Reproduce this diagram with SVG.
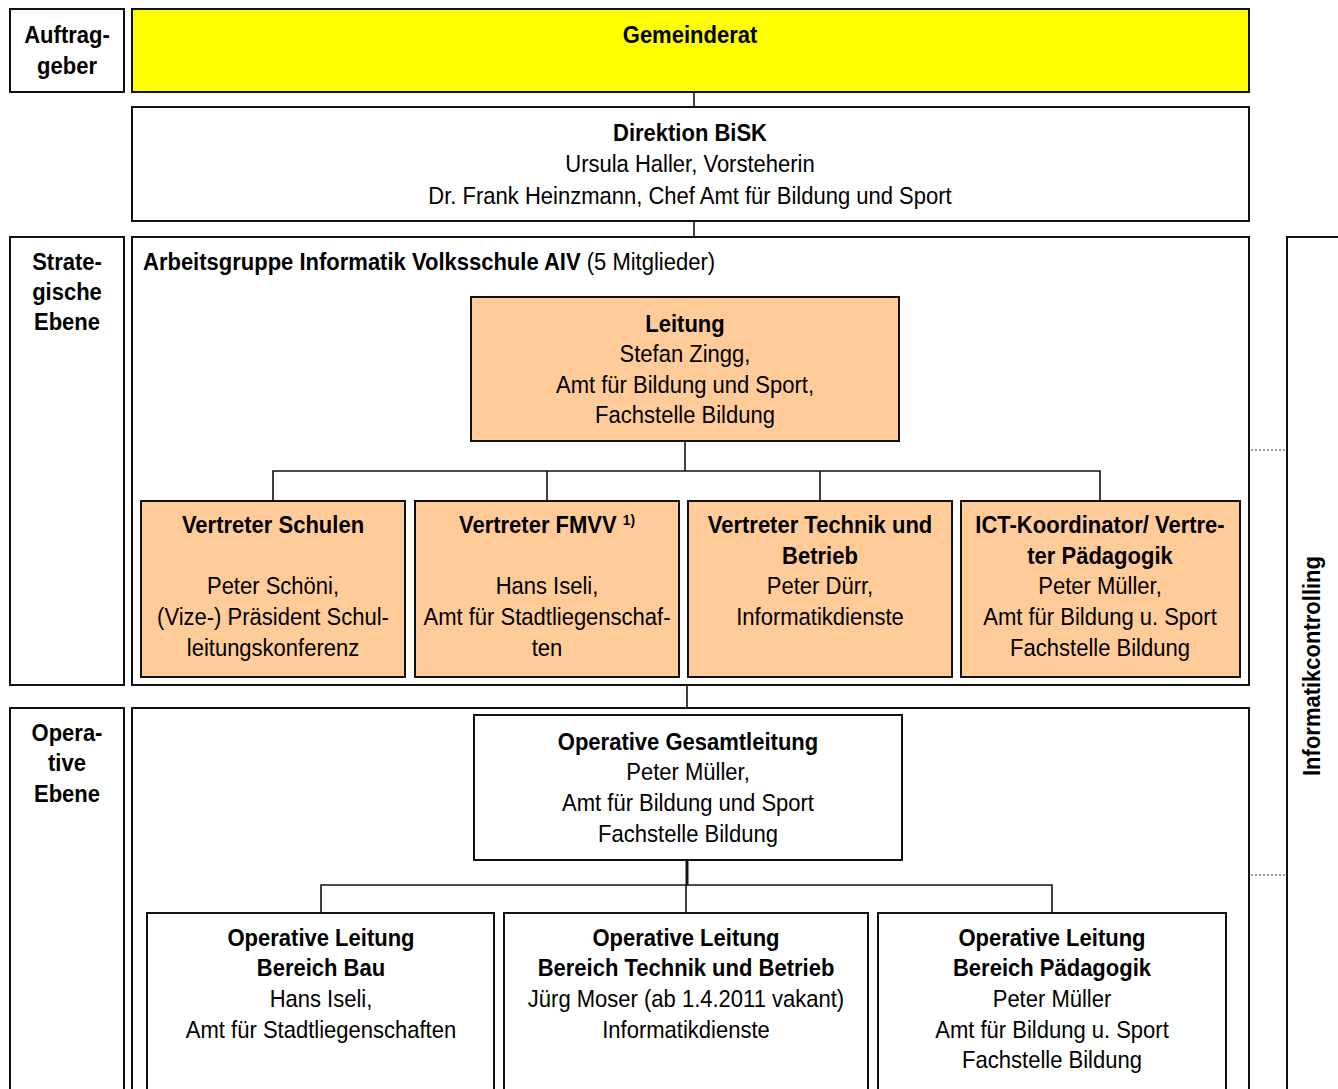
<svg xmlns="http://www.w3.org/2000/svg" width="1338" height="1089" viewBox="0 0 1338 1089">
<style>
.b{fill:#fff;stroke:#111;stroke-width:2}
.y{fill:#ffff00;stroke:#111;stroke-width:2}
.o{fill:#ffcc99;stroke:#111;stroke-width:2}
.c{fill:none;stroke:#111;stroke-width:1.6}
.d{fill:none;stroke:#333;stroke-width:1.2;stroke-dasharray:2 2}
text{font-family:"Liberation Sans Narrow","Arial Narrow","Liberation Sans",Arial,sans-serif;font-size:24px;fill:#000;text-anchor:middle}
.h{font-weight:bold}
.l{text-anchor:start}
</style>
<rect width="1338" height="1089" fill="#fff"/>
<g id="auftraggeber"><rect class="b" x="10" y="9" width="114" height="83"/><text class="h" transform="matrix(0.917 0 0 1 67 43)">Auftrag-</text><text class="h" transform="matrix(0.917 0 0 1 67 74)">geber</text></g>
<g id="gemeinderat"><rect class="y" x="132" y="9" width="1117" height="83"/><text class="h" transform="matrix(0.917 0 0 1 690 43)">Gemeinderat</text></g>
<g id="direktion"><rect class="b" x="132" y="107" width="1117" height="114"/><text class="h" transform="matrix(0.917 0 0 1 690 141)">Direktion BiSK</text><text transform="matrix(0.917 0 0 1 690 172)">Ursula Haller, Vorsteherin</text><text transform="matrix(0.917 0 0 1 690 204)">Dr. Frank Heinzmann, Chef Amt für Bildung und Sport</text></g>
<g id="strategische"><rect class="b" x="10" y="237" width="114" height="448"/><text class="h" transform="matrix(0.917 0 0 1 67 270)">Strate-</text><text class="h" transform="matrix(0.917 0 0 1 67 300)">gische</text><text class="h" transform="matrix(0.917 0 0 1 67 330)">Ebene</text></g>
<g id="aiv"><rect class="b" x="132" y="237" width="1117" height="448"/><text class="l" transform="matrix(0.917 0 0 1 143 270)"><tspan class="h">Arbeitsgruppe Informatik Volksschule AIV</tspan> (5 Mitglieder)</text></g>
<g id="operative"><rect class="b" x="10" y="708" width="114" height="390"/><text class="h" transform="matrix(0.917 0 0 1 67 741)">Opera-</text><text class="h" transform="matrix(0.917 0 0 1 67 771)">tive</text><text class="h" transform="matrix(0.917 0 0 1 67 802)">Ebene</text></g>
<g id="operative-container"><rect class="b" x="132" y="708" width="1117" height="390"/></g>
<g id="informatikcontrolling"><rect class="b" x="1287" y="237" width="60" height="870"/><text class="h" transform="translate(1320 666) rotate(-90) scale(0.917 1)">Informatikcontrolling</text></g>
<g id="connectors">
<line class="c" x1="694" y1="92" x2="694" y2="107"/>
<line class="c" x1="694" y1="221" x2="694" y2="237"/>
<path class="c" d="M685 441V471M273 501V471H1100V501M547 471V501M820 471V501"/>
<line class="c" x1="687" y1="685" x2="687" y2="708"/>
<path class="c" d="M687 860V885" style="stroke-width:3"/>
<path class="c" d="M321 913V885H1052V913M686 885V913"/>
<line class="d" x1="1251" y1="450" x2="1287" y2="450"/>
<line class="d" x1="1251" y1="875" x2="1287" y2="875"/>
</g>
<g id="leitung"><rect class="o" x="471" y="297" width="428" height="144"/><text class="h" transform="matrix(0.917 0 0 1 685 332)">Leitung</text><text transform="matrix(0.917 0 0 1 685 362)">Stefan Zingg,</text><text transform="matrix(0.917 0 0 1 685 393)">Amt für Bildung und Sport,</text><text transform="matrix(0.917 0 0 1 685 423)">Fachstelle Bildung</text></g>
<g id="vertreter-schulen"><rect class="o" x="141" y="501" width="264" height="176"/><text class="h" transform="matrix(0.917 0 0 1 273 533)">Vertreter Schulen</text><text transform="matrix(0.917 0 0 1 273 594)">Peter Schöni,</text><text transform="matrix(0.917 0 0 1 273 625)">(Vize-) Präsident Schul-</text><text transform="matrix(0.917 0 0 1 273 656)">leitungskonferenz</text></g>
<g id="vertreter-fmvv"><rect class="o" x="415" y="501" width="264" height="176"/><text class="h" transform="matrix(0.917 0 0 1 547 533)">Vertreter FMVV <tspan style="font-size:15px" dy="-8">1)</tspan></text><text transform="matrix(0.917 0 0 1 547 594)">Hans Iseli,</text><text transform="matrix(0.917 0 0 1 547 625)">Amt für Stadtliegenschaf-</text><text transform="matrix(0.917 0 0 1 547 656)">ten</text></g>
<g id="vertreter-technik"><rect class="o" x="688" y="501" width="264" height="176"/><text class="h" transform="matrix(0.917 0 0 1 820 533)">Vertreter Technik und</text><text class="h" transform="matrix(0.917 0 0 1 820 564)">Betrieb</text><text transform="matrix(0.917 0 0 1 820 594)">Peter Dürr,</text><text transform="matrix(0.917 0 0 1 820 625)">Informatikdienste</text></g>
<g id="ict-koordinator"><rect class="o" x="961" y="501" width="279" height="176"/><text class="h" transform="matrix(0.917 0 0 1 1100 533)">ICT-Koordinator/ Vertre-</text><text class="h" transform="matrix(0.917 0 0 1 1100 564)">ter Pädagogik</text><text transform="matrix(0.917 0 0 1 1100 594)">Peter Müller,</text><text transform="matrix(0.917 0 0 1 1100 625)">Amt für Bildung u. Sport</text><text transform="matrix(0.917 0 0 1 1100 656)">Fachstelle Bildung</text></g>
<g id="gesamtleitung"><rect class="b" x="474" y="715" width="428" height="145"/><text class="h" transform="matrix(0.917 0 0 1 688 750)">Operative Gesamtleitung</text><text transform="matrix(0.917 0 0 1 688 780)">Peter Müller,</text><text transform="matrix(0.917 0 0 1 688 811)">Amt für Bildung und Sport</text><text transform="matrix(0.917 0 0 1 688 842)">Fachstelle Bildung</text></g>
<g id="ol-bau"><rect class="b" x="147" y="913" width="347" height="185"/><text class="h" transform="matrix(0.917 0 0 1 321 946)">Operative Leitung</text><text class="h" transform="matrix(0.917 0 0 1 321 976)">Bereich Bau</text><text transform="matrix(0.917 0 0 1 321 1007)">Hans Iseli,</text><text transform="matrix(0.917 0 0 1 321 1038)">Amt für Stadtliegenschaften</text></g>
<g id="ol-technik"><rect class="b" x="504" y="913" width="364" height="185"/><text class="h" transform="matrix(0.917 0 0 1 686 946)">Operative Leitung</text><text class="h" transform="matrix(0.917 0 0 1 686 976)">Bereich Technik und Betrieb</text><text transform="matrix(0.917 0 0 1 686 1007)">Jürg Moser (ab 1.4.2011 vakant)</text><text transform="matrix(0.917 0 0 1 686 1038)">Informatikdienste</text></g>
<g id="ol-paedagogik"><rect class="b" x="878" y="913" width="348" height="185"/><text class="h" transform="matrix(0.917 0 0 1 1052 946)">Operative Leitung</text><text class="h" transform="matrix(0.917 0 0 1 1052 976)">Bereich Pädagogik</text><text transform="matrix(0.917 0 0 1 1052 1007)">Peter Müller</text><text transform="matrix(0.917 0 0 1 1052 1038)">Amt für Bildung u. Sport</text><text transform="matrix(0.917 0 0 1 1052 1068)">Fachstelle Bildung</text></g>
</svg>
